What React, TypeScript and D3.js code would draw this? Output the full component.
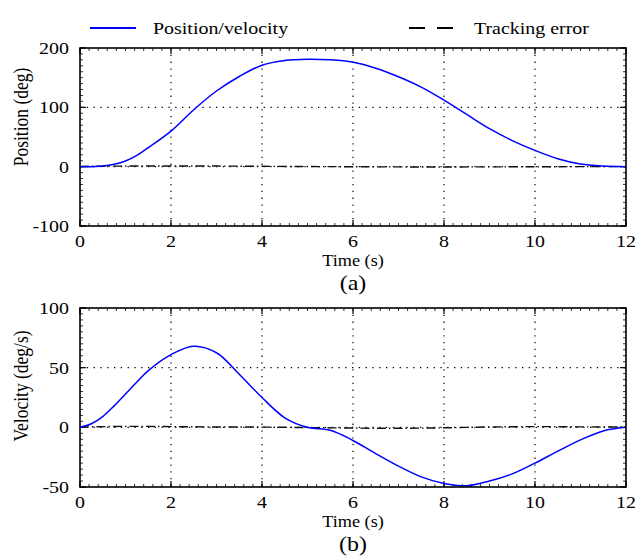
import React from "react";
import * as d3 from "d3";

const timeTicks = [0, 2, 4, 6, 8, 10, 12];
const posTicks = [-100, 0, 100, 200];
const velTicks = [-50, 0, 50, 100];

const time = [0, 0.25, 0.5, 0.75, 1, 1.25, 1.5, 2, 2.5, 3, 3.5, 4, 4.5, 5, 5.5, 6, 6.5, 7, 7.5, 8, 8.5, 9, 9.5, 10, 10.5, 11, 11.5, 12];
const position = [0, 0, 1, 4, 9.5, 19, 32, 60, 96, 127.5, 152, 171, 179, 181, 180, 176, 166, 151.5, 134, 112, 88, 64, 44, 27.5, 13.5, 4.5, 1, 0];
const velocity = [0, 3, 9, 18, 28, 38, 47.5, 61, 68, 62.5, 44.5, 25, 8, 0, -2.5, -11, -22, -32.5, -41.5, -47, -49, -45, -39, -30, -20, -10.5, -3, 0];

const errTime = [0, 1, 2, 3, 4, 5, 6, 7, 8, 9, 10, 11, 12];
const posError = [0.5, 1.0, 1.2, 1.0, 0.6, 0.2, -0.1, -0.4, -0.5, -0.3, -0.2, 0.1, 0];
const velError = [0.3, 0.8, 0.6, 0.3, 0.2, -0.2, -0.6, -0.8, -0.4, 0.3, 0.6, 0.4, 0.2];

const FONT = "'Liberation Serif', 'Times New Roman', serif";
const SX = 1.14;
const X0 = 80;
const X1 = 626;

type PanelProps = {
  top: number;
  bottom: number;
  domain: [number, number];
  yTicks: number[];
  values: number[];
  errors: number[];
  yLabel: string;
  yLabelY: number;
  caption: string;
};

function SText(props: { x: number; y: number; anchor?: string; size: number; children: React.ReactNode; rotate?: boolean }) {
  const { x, y, anchor = "middle", size, children, rotate } = props;
  return (
    <text
      transform={`translate(${x},${y}) scale(${SX},1)${rotate ? " rotate(-90)" : ""}`}
      textAnchor={anchor}
      fontFamily={FONT}
      fontSize={size}
      fill="#000"
    >
      {children}
    </text>
  );
}

function Panel(p: PanelProps) {
  const x = d3.scaleLinear().domain([0, 12]).range([X0, X1]);
  const y = d3.scaleLinear().domain(p.domain).range([p.bottom, p.top]);
  const line = d3
    .line<[number, number]>()
    .x((d) => x(d[0]))
    .y((d) => y(d[1]))
    .curve(d3.curveCatmullRom.alpha(0.5));
  const mainPath = line(time.map((t, i) => [t, p.values[i]] as [number, number])) || "";
  const errPath = line(errTime.map((t, i) => [t, p.errors[i]] as [number, number])) || "";
  const xMinor = d3.range(0, 12.0001, 0.2);
  const yStep = (p.yTicks[1] - p.yTicks[0]) / 10;
  const yMinor = d3.range(p.domain[0], p.domain[1] + 0.0001, yStep);
  const majorLen = 6;
  const minorLen = 3;
  return (
    <g>
      {timeTicks.slice(1, -1).map((t) => (
        <line key={"gx" + t} x1={x(t)} x2={x(t)} y1={p.top} y2={p.bottom} stroke="#000" strokeWidth={1.2} strokeDasharray="1.3,5.5" />
      ))}
      {p.yTicks.slice(1, -1).map((v) => (
        <line key={"gy" + v} x1={X0} x2={X1} y1={y(v)} y2={y(v)} stroke="#000" strokeWidth={1.2} strokeDasharray="1.3,5.5" />
      ))}
      {xMinor.map((t, i) => (
        <g key={"mx" + i}>
          <line x1={x(t)} x2={x(t)} y1={p.bottom} y2={p.bottom - minorLen} stroke="#000" strokeWidth={0.8} />
          <line x1={x(t)} x2={x(t)} y1={p.top} y2={p.top + minorLen} stroke="#000" strokeWidth={0.8} />
        </g>
      ))}
      {yMinor.map((v, i) => (
        <g key={"my" + i}>
          <line x1={X0} x2={X0 + minorLen} y1={y(v)} y2={y(v)} stroke="#000" strokeWidth={0.8} />
          <line x1={X1} x2={X1 - minorLen} y1={y(v)} y2={y(v)} stroke="#000" strokeWidth={0.8} />
        </g>
      ))}
      {timeTicks.map((t) => (
        <g key={"tx" + t}>
          <line x1={x(t)} x2={x(t)} y1={p.bottom} y2={p.bottom - majorLen} stroke="#000" strokeWidth={1.2} />
          <line x1={x(t)} x2={x(t)} y1={p.top} y2={p.top + majorLen} stroke="#000" strokeWidth={1.2} />
        </g>
      ))}
      {p.yTicks.map((v) => (
        <g key={"ty" + v}>
          <line x1={X0} x2={X0 + majorLen} y1={y(v)} y2={y(v)} stroke="#000" strokeWidth={1.2} />
          <line x1={X1} x2={X1 - majorLen} y1={y(v)} y2={y(v)} stroke="#000" strokeWidth={1.2} />
        </g>
      ))}
      <path d={errPath} fill="none" stroke="#111" strokeWidth={1.4} strokeDasharray="9,3,1.5,3" />
      <path d={mainPath} fill="none" stroke="#0000ff" strokeWidth={1.5} />
      <rect x={X0} y={p.top} width={X1 - X0} height={p.bottom - p.top} fill="none" stroke="#000" strokeWidth={1.6} />
      {timeTicks.map((t) => (
        <SText key={"lx" + t} x={x(t)} y={p.bottom + 20.5} size={17.5}>
          {t}
        </SText>
      ))}
      {p.yTicks.map((v) => (
        <SText key={"ly" + v} x={69} y={y(v) + 6} anchor="end" size={17.5}>
          {v}
        </SText>
      ))}
      <SText x={353} y={p.bottom + 39.5} size={16}>
        Time (s)
      </SText>
      <SText x={353} y={p.bottom + 64} size={21}>
        {p.caption}
      </SText>
      <SText x={28} y={p.yLabelY} size={17.5} rotate>
        {p.yLabel}
      </SText>
    </g>
  );
}

export default function App() {
  return (
    <div style={{ position: "absolute", left: 0, top: 0 }}>
      <svg width={641} height={557} style={{ display: "block", background: "#fff" }}>
        <line x1={90} x2={136} y1={28} y2={28} stroke="#0000ff" strokeWidth={2} />
        <SText x={153} y={34} anchor="start" size={17.5}>
          Position/velocity
        </SText>
        <line x1={409} x2={453} y1={28} y2={28} stroke="#000" strokeWidth={2} strokeDasharray="16,12" />
        <SText x={474} y={34} anchor="start" size={17.5}>
          Tracking error
        </SText>
        <Panel
          top={48}
          bottom={226}
          domain={[-100, 200]}
          yTicks={posTicks}
          values={position}
          errors={posError}
          yLabel="Position (deg)"
          yLabelY={117}
          caption="(a)"
        />
        <Panel
          top={308}
          bottom={487}
          domain={[-50, 100]}
          yTicks={velTicks}
          values={velocity}
          errors={velError}
          yLabel="Velocity (deg/s)"
          yLabelY={386}
          caption="(b)"
        />
      </svg>
    </div>
  );
}
